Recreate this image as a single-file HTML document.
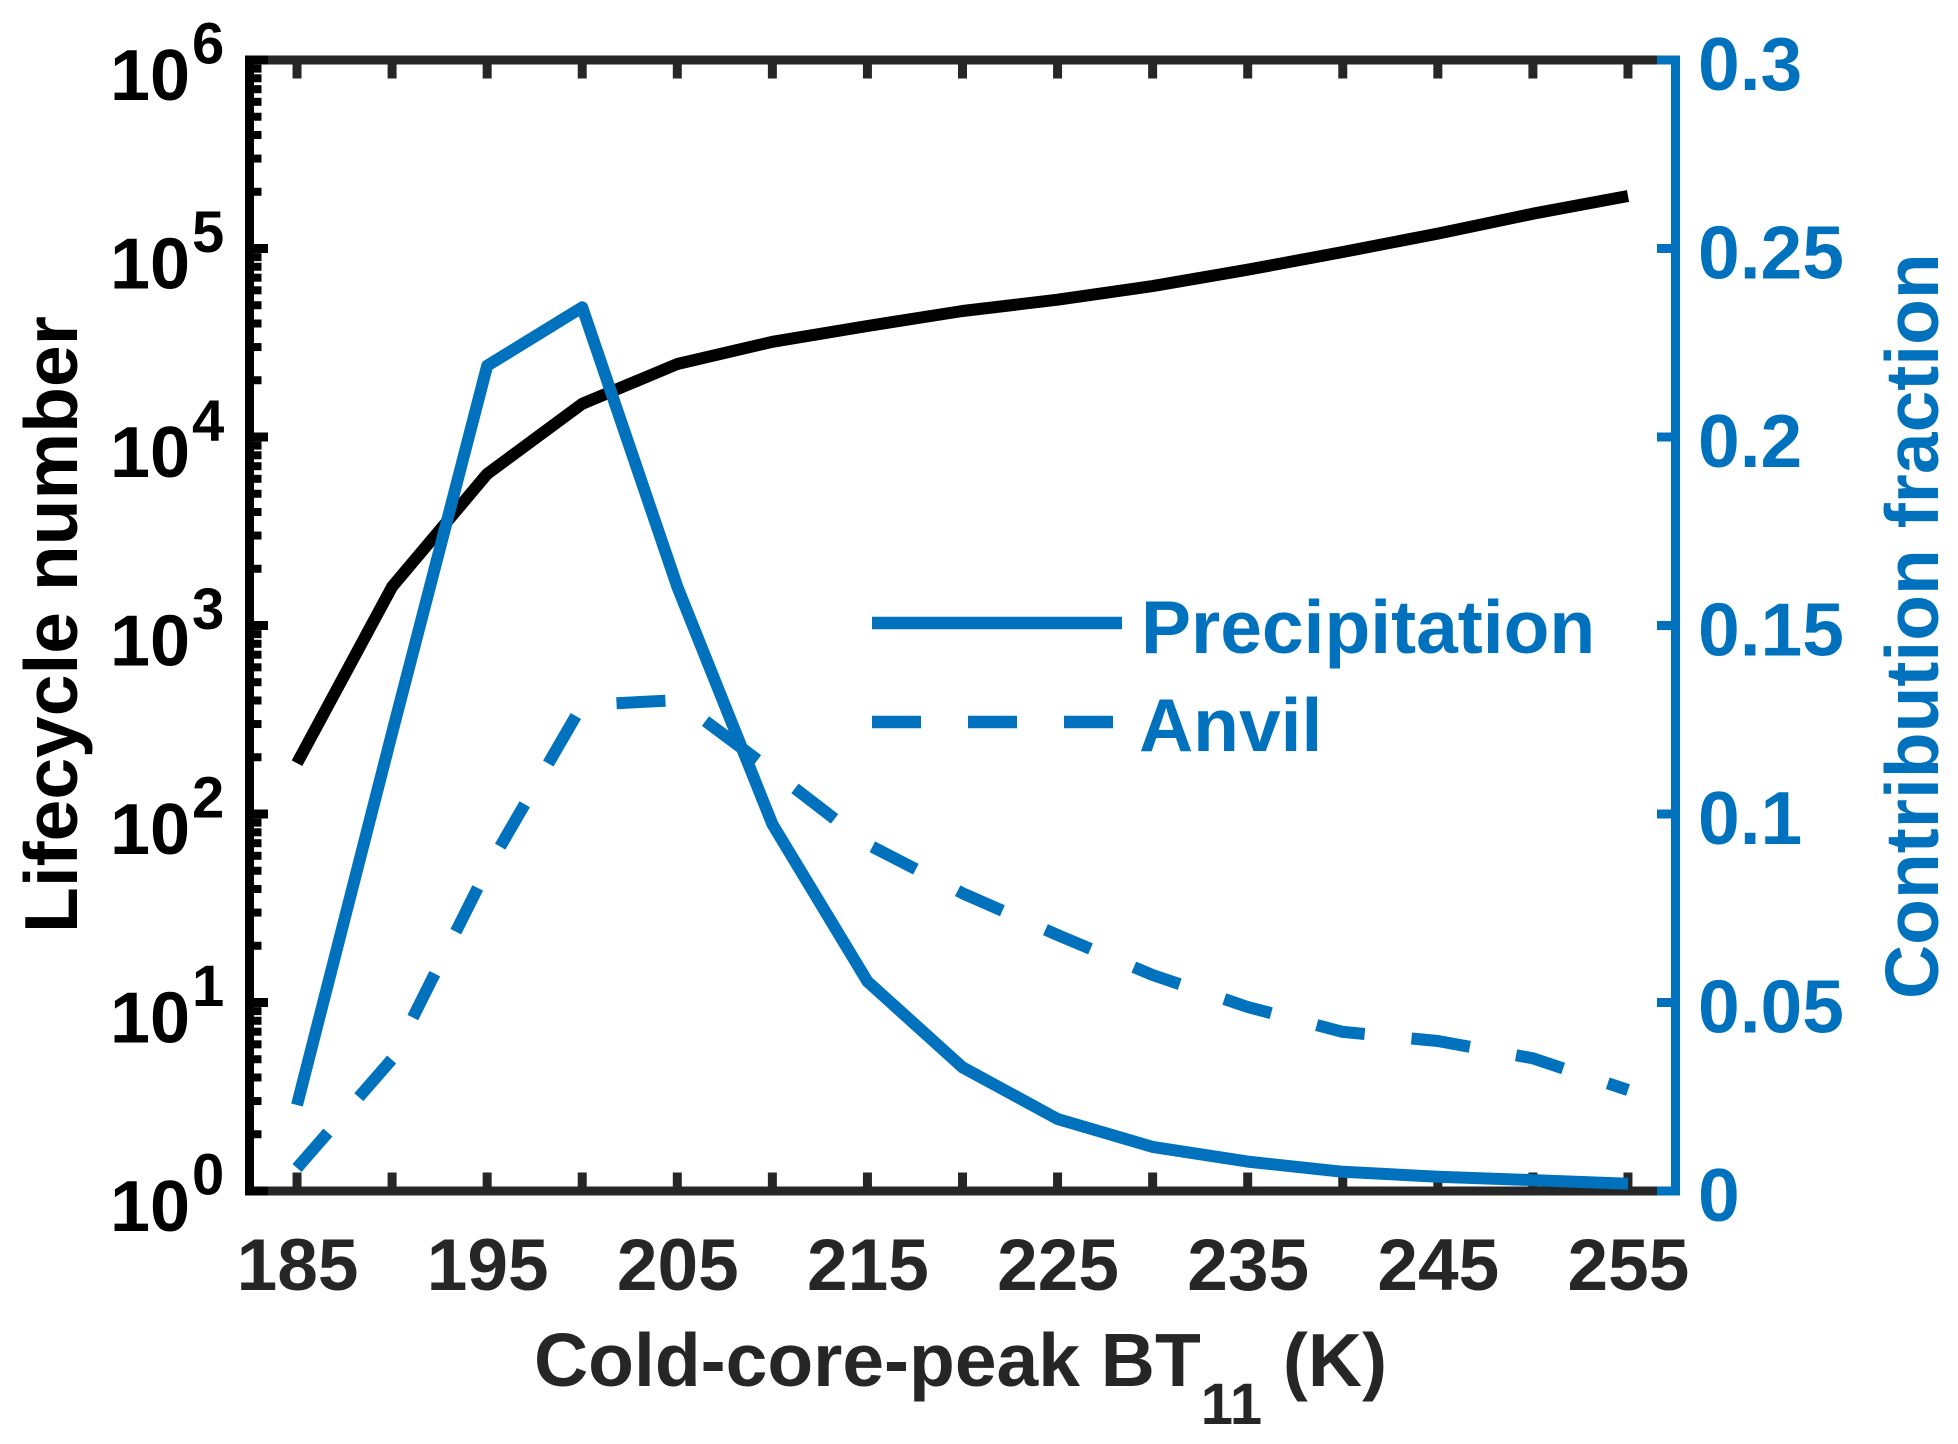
<!DOCTYPE html>
<html lang="en">
<head>
<meta charset="utf-8">
<title>Lifecycle number and contribution fraction vs cold-core-peak BT11</title>
<style>
  html, body { margin: 0; padding: 0; background: #fff; }
  svg { display: block; }
  text { font-family: "Liberation Sans", Arial, sans-serif; font-weight: bold; }
</style>
</head>
<body>
<svg id="chart" xmlns="http://www.w3.org/2000/svg" width="1958" height="1444" viewBox="0 0 1958 1444">
  <rect x="0" y="0" width="1958" height="1444" fill="#ffffff"/>
  <g id="axes-x"></g>
  <g id="axes-left"></g>
  <g id="axes-right"></g>
  <g id="series"></g>

  <text x="534" y="1386" font-size="75" fill="#262626">Cold-core-peak BT<tspan dy="38" font-size="58">11</tspan><tspan dy="-38"> (K)</tspan></text>
  <text transform="translate(77,933) rotate(-90)" font-size="75" fill="#000000">Lifecycle number</text>
  <text transform="translate(1938,999) rotate(-90)" font-size="75" fill="#0072BD">Contribution fraction</text>

  <g>
    <line x1="872" y1="623" x2="1122" y2="623" stroke="#0072BD" stroke-width="12.5"/>
    <text x="1141" y="653" font-size="75" fill="#0072BD">Precipitation</text>
    <line x1="872" y1="722" x2="1113" y2="722" stroke="#0072BD" stroke-width="12.5" stroke-dasharray="49 47"/>
    <text x="1139" y="751" font-size="75" fill="#0072BD">Anvil</text>
  </g>
</svg>
<script>
// Data arrays
const temperatures = [185,190,195,200,205,210,215,220,225,230,235,240,245,250,255];
const lifecycleNumber = [186,1604,6370,15000,24400,32000,38800,46600,53500,63200,77200,95800,120000,153000,190000];
const precipitationFraction = [0.0228,0.1215,0.2189,0.2344,0.1603,0.0973,0.0556,0.0328,0.0191,0.0117,0.0078,0.0051,0.0038,0.0029,0.0019];
const anvilFraction = [0.0061,0.0350,0.0854,0.1289,0.1302,0.1114,0.0920,0.0790,0.0679,0.0573,0.0488,0.0422,0.0398,0.0352,0.0268];
const xTickValues = [185,190,195,200,205,210,215,220,225,230,235,240,245,250,255];
const xTickLabels = ['185','195','205','215','225','235','245','255'];
const leftTickExponents = [0,1,2,3,4,5,6];
const minorMultipliers = [2,3,4,5,6,7,8,9];
const rightTickValues = [0,0.05,0.1,0.15,0.2,0.25,0.3];
const rightTickLabels = ['0','0.05','0.1','0.15','0.2','0.25','0.3'];

// Axis functions
const plotLeft = 249.5, plotRight = 1675.5, plotTop = 60, plotBottom = 1191;
const xMin = 182.5, xMax = 257.5, logMin = 0, logMax = 6, fracMin = 0, fracMax = 0.3;
function xScale(v) { return plotLeft + (v - xMin) / (xMax - xMin) * (plotRight - plotLeft); }
function yLog(v) { return plotBottom - (Math.log10(v) - logMin) / (logMax - logMin) * (plotBottom - plotTop); }
function yFrac(v) { return plotBottom - (v - fracMin) / (fracMax - fracMin) * (plotBottom - plotTop); }

const NS = 'http://www.w3.org/2000/svg';
function makeLine(parent, x1, y1, x2, y2, color, width) {
  const l = document.createElementNS(NS, 'line');
  l.setAttribute('x1', x1);
  l.setAttribute('y1', y1);
  l.setAttribute('x2', x2);
  l.setAttribute('y2', y2);
  l.setAttribute('stroke', color);
  l.setAttribute('stroke-width', width);
  parent.appendChild(l);
  return l;
}
function makeText(parent, x, y, str, size, color, anchor) {
  const t = document.createElementNS(NS, 'text');
  t.setAttribute('x', x);
  t.setAttribute('y', y);
  t.setAttribute('font-size', size);
  t.setAttribute('fill', color);
  t.setAttribute('text-anchor', anchor);
  t.textContent = str;
  parent.appendChild(t);
  return t;
}

const DARK = '#262626', BLACK = '#000000', BLUE = '#0072BD';
const spineW = 9, tickW = 9, majorLen = 18.5, minorLen = 12;

// X axis
const gx = document.getElementById('axes-x');
let el = makeLine(gx, plotLeft, plotTop, plotRight, plotTop, DARK, spineW);


el = makeLine(gx, plotLeft, plotBottom, plotRight, plotBottom, DARK, spineW);


xTickValues.forEach(function (v) {
  const px = xScale(v);
  const a = makeLine(gx, px, plotTop, px, plotTop + majorLen, DARK, tickW);
  
  
  const b = makeLine(gx, px, plotBottom, px, plotBottom - majorLen, DARK, tickW);
  
  
});
xTickLabels.forEach(function (s) {
  const t = makeText(gx, xScale(Number(s)) + 0.5, 1290, s, 73, DARK, 'middle');
  
  
});

// Left log axis
const gl = document.getElementById('axes-left');
el = makeLine(gl, plotLeft, plotTop - 4.5, plotLeft, plotBottom + 4.5, BLACK, spineW);


leftTickExponents.forEach(function (e) {
  const py = yLog(Math.pow(10, e));
  const m = makeLine(gl, plotLeft, py, plotLeft + majorLen, py, BLACK, tickW);
  
  
  const base = makeText(gl, 110, py + 40, '10', 72, BLACK, 'start');
  
  
  const sup = makeText(gl, 192, py + 3.5, String(e), 58, BLACK, 'start');
  
  
  if (e < 6) {
    minorMultipliers.forEach(function (k) {
      const my = yLog(k * Math.pow(10, e));
      const n = makeLine(gl, plotLeft, my, plotLeft + minorLen, my, BLACK, 8);
      
      
    });
  }
});

// Right linear axis
const gr = document.getElementById('axes-right');
el = makeLine(gr, plotRight, plotTop - 4.5, plotRight, plotBottom + 4.5, BLUE, spineW);


rightTickValues.forEach(function (v, i) {
  const py = yFrac(v);
  const m = makeLine(gr, plotRight, py, plotRight - majorLen, py, BLUE, tickW);
  
  
  const t = makeText(gr, 1698, py + 30, rightTickLabels[i], 75, BLUE, 'start');
  
  
});

// Series
const gs = document.getElementById('series');
function makeSeries(values, yFn, color, width, dash) {
  const p = document.createElementNS(NS, 'polyline');
  p.setAttribute('points', values.map(function (v, i) {
    return xScale(temperatures[i]).toFixed(1) + ',' + yFn(v).toFixed(1);
  }).join(' '));
  p.setAttribute('fill', 'none');
  p.setAttribute('stroke', color);
  p.setAttribute('stroke-width', width);
  p.setAttribute('stroke-linejoin', 'round');
  p.setAttribute('stroke-linecap', 'butt');
  if (dash) { p.setAttribute('stroke-dasharray', dash); }
  gs.appendChild(p);
  return p;
}
const lifeLine = makeSeries(lifecycleNumber, yLog, BLACK, 12, null);


const anvilLine = makeSeries(anvilFraction, yFrac, BLUE, 12, '47 47 50 47 49 47 49 47 49 47 55 47 49 47 65 47 50 47 49 47 49 47 49 47 49 47 49 47 49 47 59 47 49 47 60 200');


const precipLine = makeSeries(precipitationFraction, yFrac, BLUE, 12, null);


</script>
</body>
</html>
